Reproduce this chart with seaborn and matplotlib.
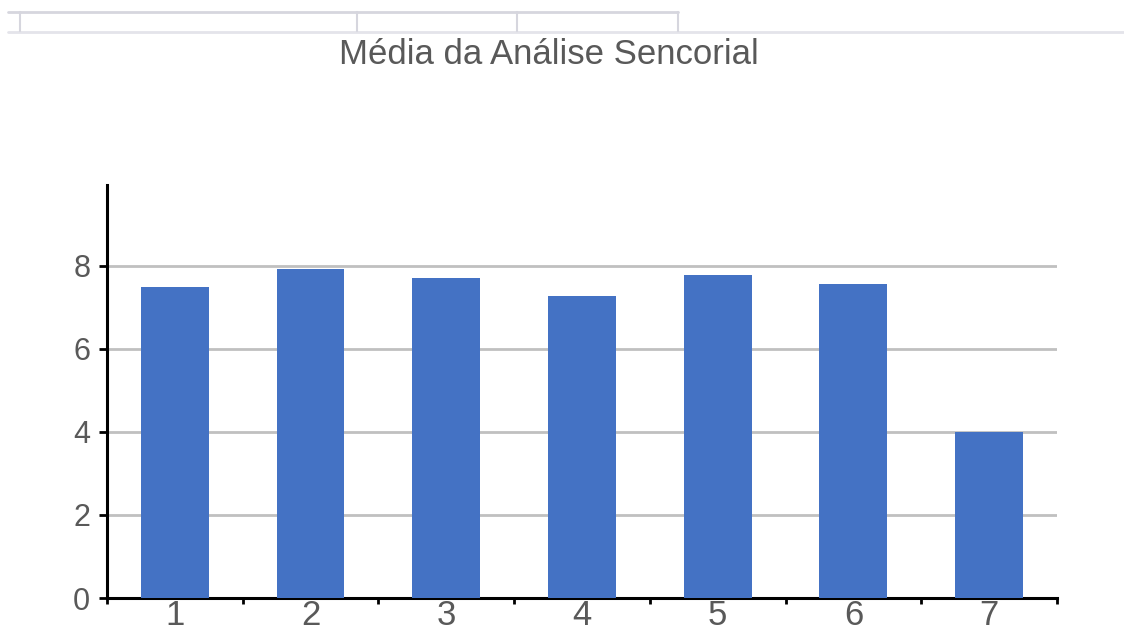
import matplotlib
matplotlib.use("Agg")
import matplotlib.pyplot as plt
from matplotlib.lines import Line2D
import seaborn as sns
import pandas as pd
import numpy as np

categories = ["1", "2", "3", "4", "5", "6", "7"]
values = [7.49, 7.93, 7.71, 7.28, 7.78, 7.57, 4.0]
title = "Média da Análise Sencorial"
yticks = [0, 2, 4, 6, 8]

sns.set_theme(style="white")
plt.rcParams['font.family'] = ['Liberation Sans', 'DejaVu Sans']

df = pd.DataFrame({"cat": categories, "val": values})

fig = plt.figure(figsize=(11.24, 6.39), dpi=100)
ax = fig.add_axes([107/1124, 41/639, 950/1124, 413/639])

sns.barplot(data=df, x="cat", y="val", color="#4472C4", width=0.5,
            saturation=1, linewidth=0, ax=ax, zorder=3)

ax.set_ylim(0, 9.95)
ax.set_xlim(-0.5, len(categories) - 0.5)
ax.set_yticks(yticks)
ax.yaxis.grid(True, color="#c0c0c0", linewidth=2, zorder=0)
ax.set_axisbelow(True)
ax.set_xlabel("")
ax.set_ylabel("")

for s in ["top", "right"]:
    ax.spines[s].set_visible(False)
for s in ["left", "bottom"]:
    ax.spines[s].set_color("black")
    ax.spines[s].set_linewidth(2.2)

ax.tick_params(axis="y", direction="out", length=6, width=2, color="black",
               labelsize=22, labelcolor="#595959", pad=6, left=True)
ax.tick_params(axis="x", which="major", length=0, labelsize=25,
               labelcolor="#595959", pad=1)
ax.set_xticks(np.arange(-0.5, len(categories) + 0.5, 1), minor=True)
ax.tick_params(axis="x", which="minor", direction="out", length=4, width=2,
               color="black", bottom=True)

fig.text(549/1124, 1 - 55/639, title, ha="center", va="center",
         fontsize=25, color="#595959")

# top spreadsheet border remnants
lc = "#d6d6de"
fig.add_artist(Line2D([8/1124, 678/1124], [1 - 12/639, 1 - 12/639], color=lc, lw=2))
fig.add_artist(Line2D([8/1124, 1124/1124], [1 - 32/639, 1 - 32/639], color="#e4e4ea", lw=2))
for x in [20, 357, 517, 678]:
    fig.add_artist(Line2D([x/1124, x/1124], [1 - 12/639, 1 - 31/639], color=lc, lw=1.5))

fig.savefig("out.png", dpi=100, facecolor="white")
